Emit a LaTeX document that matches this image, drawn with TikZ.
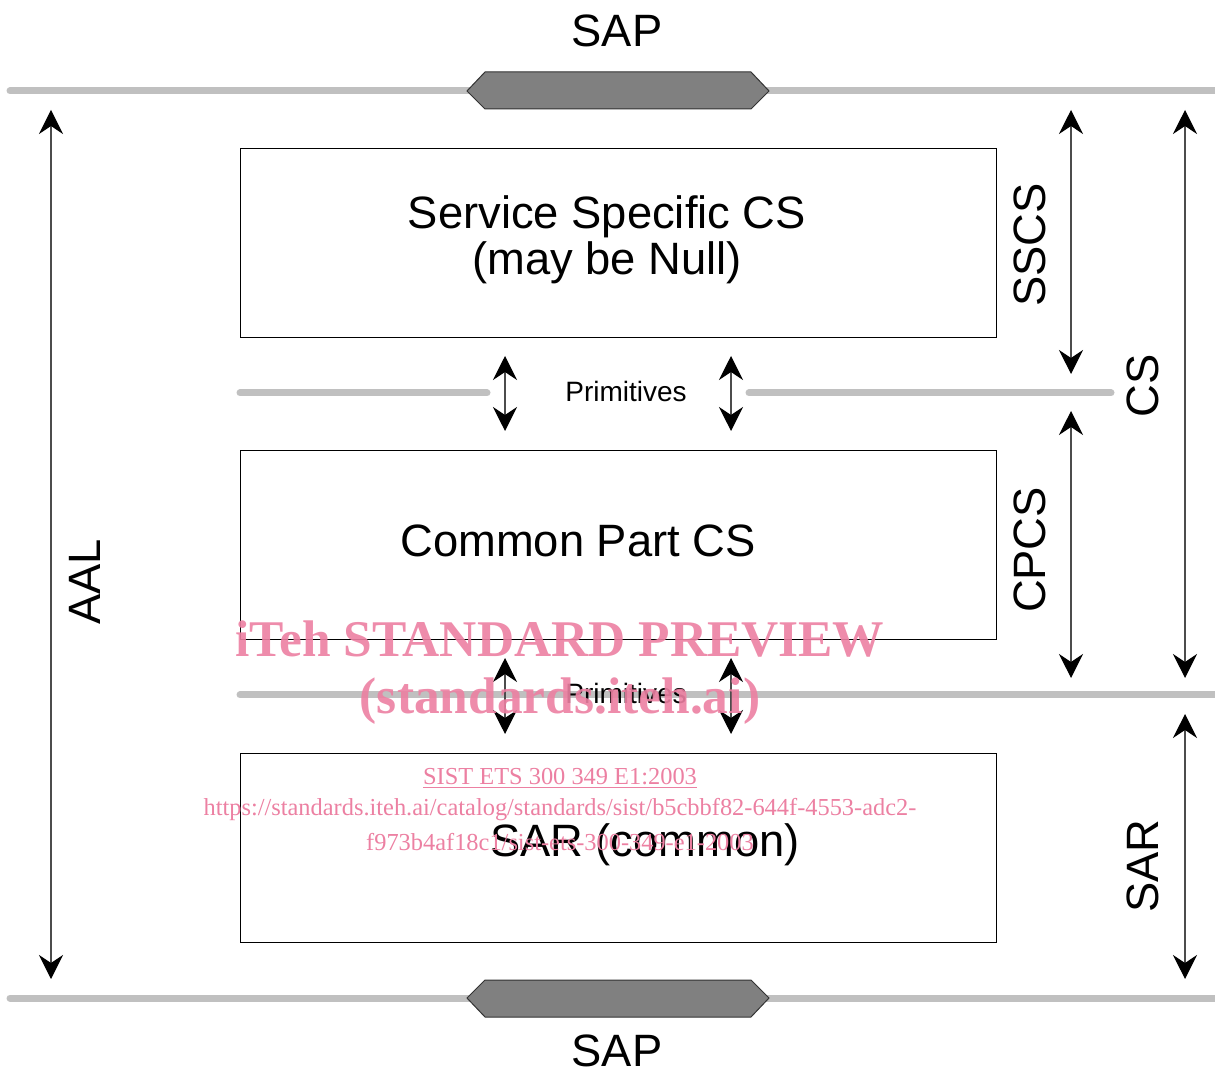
\documentclass[tikz,border=0pt]{standalone}
\usepackage{fontspec}
\setmainfont{Liberation Sans}
\newfontfamily\wmfont{Liberation Serif}
\usetikzlibrary{arrows.meta}
\definecolor{railgray}{RGB}{192,192,192}
\definecolor{sapgray}{RGB}{128,128,128}
\definecolor{wmpink}{RGB}{236,128,162}
\tikzset{
  rail/.style={draw=railgray, line width=5.25pt, line cap=round},
  sapbox/.style={draw=black!80, fill=sapgray, line width=0.75pt, line join=miter},
  layerbox/.style={draw=black, line width=0.7pt, minimum width=567pt, minimum height=141.75pt, inner sep=0pt},
  bigtext/.style={font=\fontsize{34}{34.5}\selectfont, align=center, inner sep=0pt},
  primtext/.style={font=\fontsize{21}{24}\selectfont, inner sep=0pt},
  dimarrow/.style={draw=black!70, line width=0.9pt,
     {Stealth[length=18pt, width=18pt, inset=6pt, color=black]}-{Stealth[length=18pt, width=18pt, inset=6pt, color=black]}},
  wmbig/.style={font=\wmfont\bfseries\fontsize{38.6}{40}\selectfont, text=wmpink, inner sep=0pt},
  wmsmall/.style={font=\wmfont\fontsize{18.3}{24}\selectfont, text=wmpink, inner sep=0pt}
}

\begin{document}
\begin{tikzpicture}[x=0.75pt, y=-0.75pt]
\useasboundingbox (0,0) rectangle (1215,1069);

% rails
\coordinate (topL) at (10,91);
\coordinate (topR) at (1222,91);
\coordinate (botL) at (10,998);
\coordinate (botR) at (1222,998);
\draw[rail] (topL) -- (topR);
\draw[rail] (botL) -- (botR);

% SAP hexagons
\draw[sapbox] (467,91) -- (485,72) -- (751,72) -- (769,91) -- (751,109) -- (485,109) -- cycle;
\draw[sapbox] (467,998) -- (485,980) -- (751,980) -- (769,998) -- (751,1017) -- (485,1017) -- cycle;
\node[bigtext] (saptop) at (617,31) {SAP};
\node[bigtext] (sapbot) at (617,1051) {SAP};

% primitive rails
\coordinate (p1a) at (240,393);
\coordinate (p1b) at (487,393);
\coordinate (p1c) at (749,393);
\coordinate (p1d) at (1111,393);
\draw[rail] (p1a) -- (p1b);
\draw[rail] (p1c) -- (p1d);
\coordinate (p2a) at (240,695);
\coordinate (p2b) at (1222,695);
\draw[rail] (p2a) -- (p2b);

% boxes
\node[layerbox] (sscs) at (618,242.5) {};
\node[layerbox] (cpcs) at (618,544.5) {};
\node[layerbox] (sar) at (618,847.5) {};
\node[bigtext] (sscstext) at (607,240) {Service Specific CS\\(may be Null)};
\node[bigtext] (cpcstext) at (578,541) {Common Part CS};
\node[bigtext] (sartext) at (645,845) {SAR (common)};

% primitives
\node[primtext] (prim1) at (626,391) {Primitives};
\node[primtext] (prim2) at (626,693) {Primitives};
\coordinate (a1t) at (505,356); \coordinate (a1b) at (505,431);
\coordinate (a2t) at (731,356); \coordinate (a2b) at (731,431);
\coordinate (a3t) at (505,658); \coordinate (a3b) at (505,734);
\coordinate (a4t) at (731,658); \coordinate (a4b) at (731,734);
\draw[dimarrow] (a1t) -- (a1b);
\draw[dimarrow] (a2t) -- (a2b);
\draw[dimarrow] (a3t) -- (a3b);
\draw[dimarrow] (a4t) -- (a4b);

% dimension arrows
\coordinate (aalt) at (51,110); \coordinate (aalb) at (51,979);
\draw[dimarrow] (aalt) -- (aalb);
\node[bigtext, rotate=90] (aal) at (85,582) {AAL};

\coordinate (ssct) at (1071,110); \coordinate (sscb) at (1071,374);
\draw[dimarrow] (ssct) -- (sscb);
\node[bigtext, rotate=90] (sscslab) at (1030,245) {SSCS};

\coordinate (cpct) at (1071,411); \coordinate (cpcb) at (1071,678);
\draw[dimarrow] (cpct) -- (cpcb);
\node[bigtext, rotate=90] (cpcslab) at (1030,550) {CPCS};

\coordinate (cst) at (1185,110); \coordinate (csb) at (1185,678);
\draw[dimarrow] (cst) -- (csb);
\node[bigtext, rotate=90] (cslab) at (1143,386) {CS};

\coordinate (sart) at (1185,714); \coordinate (sarb) at (1185,979);
\draw[dimarrow] (sart) -- (sarb);
\node[bigtext, rotate=90] (sarlab) at (1143,866) {SAR};

% watermark
\node[wmbig, opacity=0.9] (wm1) at (560,639) {iTeh STANDARD PREVIEW};
\node[wmbig, opacity=0.9] (wm2) at (560,701) {(standards.iteh.ai)};
\node[wmsmall] (wm3) at (560,778) {\underline{SIST ETS 300 349 E1:2003}};
\node[wmsmall] (wm4) at (560,810) {https://standards.iteh.ai/catalog/standards/sist/b5cbbf82-644f-4553-adc2-};
\node[wmsmall] (wm5) at (560,842) {f973b4af18c1/sist-ets-300-349-e1-2003};
\end{tikzpicture}
\end{document}
